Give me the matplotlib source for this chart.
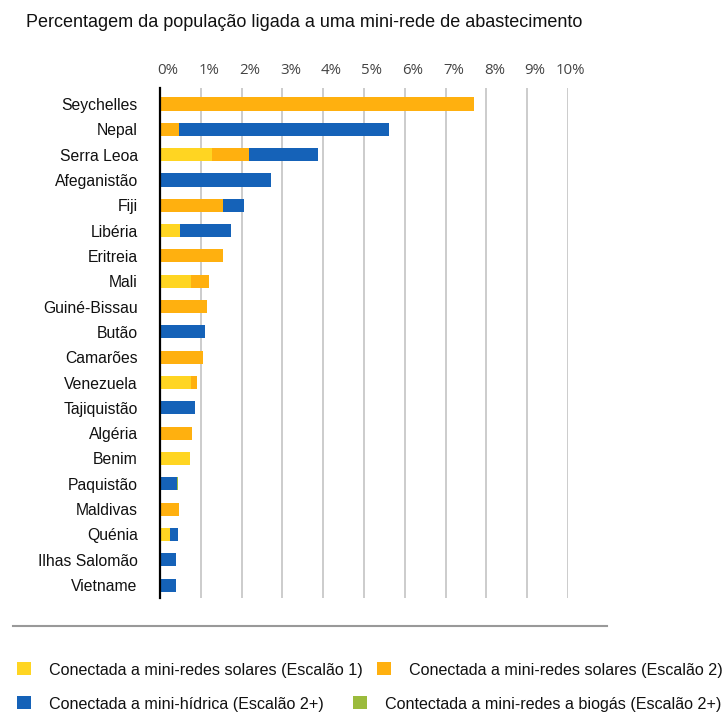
import matplotlib
matplotlib.use("Agg")
import matplotlib.pyplot as plt
import matplotlib.transforms as mtransforms
import numpy as np

countries = ["Seychelles", "Nepal", "Serra Leoa", "Afeganistão", "Fiji", "Libéria",
             "Eritreia", "Mali", "Guiné-Bissau", "Butão", "Camarões", "Venezuela",
             "Tajiquistão", "Algéria", "Benim", "Paquistão", "Maldivas", "Quénia",
             "Ilhas Salomão", "Vietname"]
solar_t1 = [0.0, 0.0, 1.27, 0.0, 0.0, 0.49, 0.0, 0.75, 0.0, 0.0, 0.0, 0.75,
            0.0, 0.0, 0.74, 0.0, 0.0, 0.25, 0.0, 0.0]
solar_t2 = [7.70, 0.47, 0.92, 0.0, 1.55, 0.0, 1.55, 0.46, 1.14, 0.0, 1.06, 0.16,
            0.0, 0.78, 0.0, 0.0, 0.47, 0.0, 0.0, 0.0]
hydro = [0.0, 5.15, 1.69, 2.71, 0.50, 1.25, 0.0, 0.0, 0.0, 1.11, 0.0, 0.0,
         0.87, 0.0, 0.0, 0.42, 0.0, 0.20, 0.39, 0.39]
biogas = [0.0] * 15 + [0.03] + [0.0] * 4
xticks = [0, 1, 2, 3, 4, 5, 6, 7, 8, 9, 10]
xticklabels = ["0%", "1%", "2%", "3%", "4%", "5%", "6%", "7%", "8%", "9%", "10%"]
series_names = ["Conectada a mini-redes solares (Escalão 1)",
                "Conectada a mini-redes solares (Escalão 2)",
                "Conectada a mini-hídrica (Escalão 2+)",
                "Contectada a mini-redes a biogás (Escalão 2+)"]
colors = ["#FFD522", "#FFB00F", "#1562B8", "#9BBB3C"]

W, H = 726, 716
fig = plt.figure(figsize=(W / 100, H / 100), dpi=100)
ax = fig.add_axes([160 / W, 1 - 598 / H, 408 / W, 510 / H])

y = np.arange(len(countries))
left = np.zeros(len(countries))
handles = []
for vals, col, name in zip([solar_t1, solar_t2, hydro, biogas], colors, series_names):
    v = np.array(vals)
    b = ax.barh(y, v, left=left, height=0.52, color=col, label=name, zorder=3)
    handles.append(b)
    left += v

ax.set_xlim(0, 10)
ax.set_ylim(19.51, -0.63)
ax.set_yticks(y)
ax.set_yticklabels(countries, fontfamily="Liberation Sans", fontsize=11.3, color="#111111")
ax.tick_params(axis="y", length=0, pad=16)
ax.xaxis.tick_top()
ax.set_xticks(xticks)
ax.set_xticklabels(xticklabels, fontfamily="Open Sans", fontsize=10.8, color="#444444")
ax.tick_params(axis="x", length=0, pad=7)
for i, lbl in enumerate(ax.get_xticklabels()):
    dx = 8 if i < len(xticks) - 1 else 2
    lbl.set_transform(lbl.get_transform() +
                      mtransforms.ScaledTranslation(dx / 100, 0, fig.dpi_scale_trans))
for xv in xticks[1:]:
    ax.axvline(xv, color="#c4c4c4", lw=1.2, zorder=1)
for s in ["top", "right", "bottom"]:
    ax.spines[s].set_visible(False)
ax.spines["left"].set_color("black")
ax.spines["left"].set_linewidth(1.6)
ax.spines["left"].set_zorder(4)

fig.text(26 / W, 1 - 27 / H, "Percentagem da população ligada a uma mini-rede de abastecimento",
         fontfamily="Liberation Sans", fontsize=13, color="#111111", va="baseline", ha="left")

fig.add_artist(plt.Line2D([13 / W, 607 / W], [1 - 626 / H, 1 - 626 / H],
                          color="#999999", lw=1.5))

legend_pos = [(17, 670), (377, 670), (17, 704), (353, 704)]
for h, name, (lx, ly) in zip(handles, series_names, legend_pos):
    leg = fig.legend([h], [name], loc="center left", bbox_to_anchor=(lx / W, 1 - ly / H),
                     frameon=False, prop={"family": "Liberation Sans", "size": 11.6},
                     handlelength=0.87, handleheight=0.85, handletextpad=1.12,
                     borderpad=0, borderaxespad=0)
    for t in leg.get_texts():
        t.set_color("#111111")

fig.savefig("out.png", dpi=100)
